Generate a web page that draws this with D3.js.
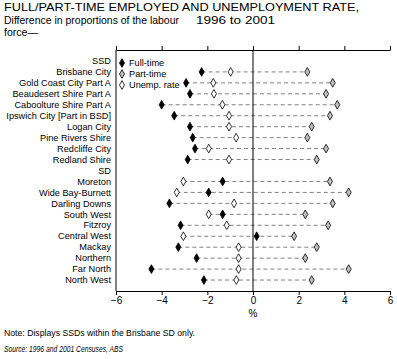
<!DOCTYPE html>
<html><head><meta charset="utf-8">
<script src="https://cdn.jsdelivr.net/npm/d3@7"></script>
<style>body{margin:0;background:#fff}svg{font-family:"Liberation Sans",Arial,sans-serif}</style>
</head><body><svg id="c" width="397" height="359"></svg>
<script>
const categories = ["SSD","Brisbane City","Gold Coast City Part A","Beaudesert Shire Part A","Caboolture Shire Part A","Ipswich City [Part in BSD]","Logan City","Pine Rivers Shire","Redcliffe City","Redland Shire","SD","Moreton","Wide Bay-Burnett","Darling Downs","South West","Fitzroy","Central West","Mackay","Northern","Far North","North West"];
const fullTime = [null,-2.25,-2.93,-2.76,-4.00,-3.45,-2.76,-2.64,-2.54,-2.86,null,-1.33,-1.94,-3.66,-1.33,-3.17,0.16,-3.27,-2.47,-4.45,-2.15];
const partTime = [null,2.38,3.49,3.20,3.69,3.37,2.57,2.38,3.20,2.79,null,3.37,4.19,3.49,2.29,3.29,1.80,2.79,2.29,4.19,2.57];
const unempRate = [null,-0.98,-1.74,-1.71,-1.34,-1.05,-1.05,-0.74,-1.94,-1.05,null,-3.05,-3.34,-0.83,-1.94,-1.15,-3.05,-0.63,-0.63,-0.63,-0.73];
const xTicks = [-6,-4,-2,0,2,4,6];
const seriesNames = ["Full-time","Part-time","Unemp. rate"];

const svg = d3.select("#c");
const L=116, R=390, T=50, B=291;
const x = d3.scaleLinear().domain([-6,6]).range([L,R]);
const y = d3.scalePoint().domain(categories).range([T,B]).padding(1);
const fills = ["#000","#c0c0c0","#fff"];
const series = [fullTime, partTime, unempRate];

function txt(xx, yy, s, size, len, italic){
  const e = svg.append("text").attr("x",xx).attr("y",yy).attr("font-size",size).text(s);
  if(len) e.attr("textLength",len).attr("lengthAdjust","spacingAndGlyphs");
  if(italic) e.attr("font-style","italic");
  return e;
}
// title
txt(4,11,"FULL/PART-TIME EMPLOYED AND UNEMPLOYMENT RATE,",10.5,355);
txt(4,24,"Difference in proportions of the labour",10.5,175);
txt(196,24,"1996 to 2001",10.5,79);
txt(4,36,"force\u2014",10.5,34);

// dashed range lines
categories.forEach((c,i)=>{
  const vals = series.map(s=>s[i]).filter(v=>v!=null);
  if(!vals.length) return;
  svg.append("line").attr("x1",x(d3.min(vals))).attr("x2",x(d3.max(vals)))
    .attr("y1",y(c)).attr("y2",y(c)).attr("stroke","#808080").attr("stroke-width",1)
    .attr("stroke-dasharray","4,3");
});

// axes
const bottomAxis = svg.append("g").attr("transform",`translate(0,${B})`)
  .call(d3.axisBottom(x).tickValues(xTicks).tickSize(4).tickPadding(2).tickFormat(d=>d<0?"\u2212"+(-d):d));
bottomAxis.select(".domain").attr("stroke","#000");
bottomAxis.selectAll("text").attr("font-size",10).attr("font-family","Liberation Sans,Arial,sans-serif");
svg.append("g").attr("transform",`translate(0,${T})`)
  .call(d3.axisTop(x).tickValues(xTicks).tickSize(4).tickSizeOuter(0).tickFormat(""));
svg.append("line").attr("x1",L).attr("x2",L).attr("y1",T).attr("y2",B).attr("stroke","#000");
svg.append("line").attr("x1",x(0)).attr("x2",x(0)).attr("y1",T).attr("y2",B).attr("stroke","#000");

// category labels
svg.append("g").selectAll("text").data(categories).join("text")
  .attr("x",L-5).attr("y",d=>y(d)).attr("dy","0.35em").attr("text-anchor","end")
  .attr("font-size",9.2).text(d=>d);

// markers
const diamond = d3.symbol().type(d3.symbolDiamond).size(22);
series.forEach((s,k)=>{
  svg.append("g").selectAll("path").data(categories.map((c,i)=>({c,v:s[i]})).filter(d=>d.v!=null))
    .join("path").attr("d",diamond).attr("transform",d=>`translate(${x(d.v)},${y(d.c)})`)
    .attr("fill",fills[k]).attr("stroke","#000").attr("stroke-width",0.8);
});

// legend
const lg = svg.append("g");
seriesNames.forEach((n,k)=>{
  const yy = 63 + k*11;
  lg.append("path").attr("d",diamond).attr("transform",`translate(122,${yy})`)
    .attr("fill",fills[k]).attr("stroke","#000").attr("stroke-width",0.8);
  lg.append("text").attr("x",129).attr("y",yy).attr("dy","0.35em").attr("font-size",9.2).text(n);
});

svg.append("text").attr("x",x(0)).attr("y",317).attr("text-anchor","middle").attr("font-size",10).text("%");
txt(4,336,"Note: Displays SSDs within the Brisbane SD only.",9,191);
txt(4,352,"Source: 1996 and 2001 Censuses, ABS",9,119,true);
</script></body></html>
